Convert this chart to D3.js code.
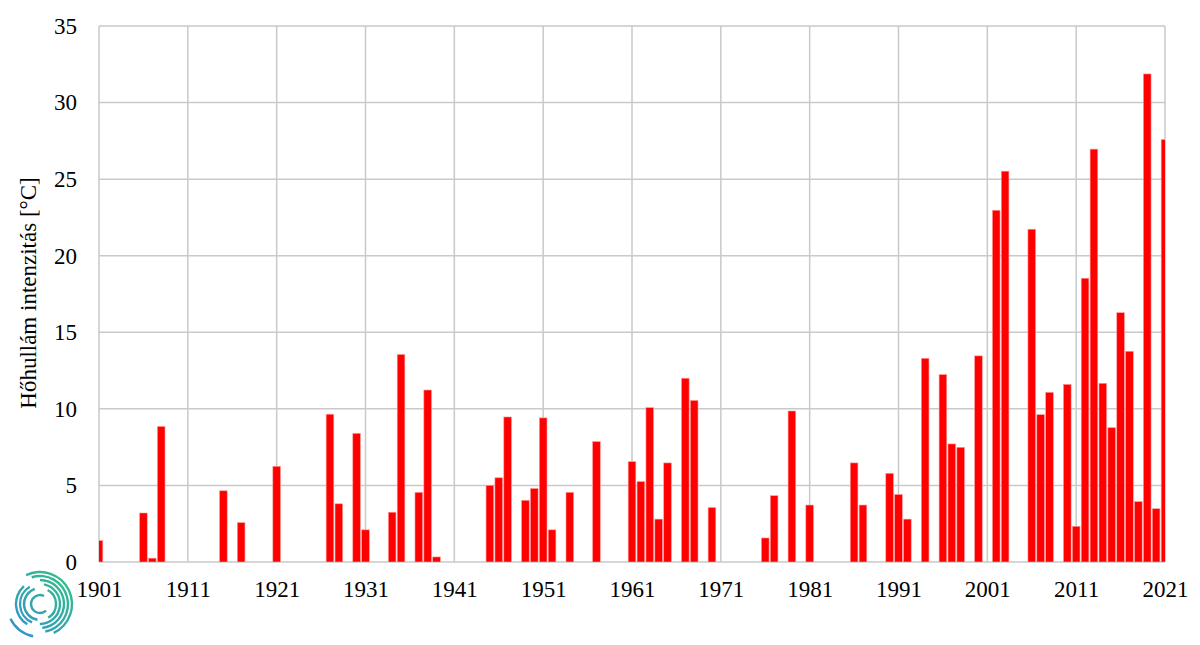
<!DOCTYPE html>
<html>
<head>
<meta charset="utf-8">
<script src="https://cdn.jsdelivr.net/npm/d3@7"></script>
<style>
  body { margin: 0; background: #fff; }
  svg { display: block; }
  text { font-family: "Liberation Serif", "Times New Roman", serif; fill: #000; }
</style>
</head>
<body>
<svg id="chart" width="1200" height="645"></svg>
<script>
const years = [1901, 1906, 1907, 1908, 1915, 1917, 1921, 1927, 1928, 1930, 1931, 1934, 1935, 1937, 1938, 1939,
  1945, 1946, 1947, 1949, 1950, 1951, 1952, 1954, 1957, 1961, 1962, 1963, 1964, 1965, 1967, 1968, 1970,
  1976, 1977, 1979, 1981, 1986, 1987, 1990, 1991, 1992, 1994, 1996, 1997, 1998, 2000, 2002, 2003,
  2006, 2007, 2008, 2010, 2011, 2012, 2013, 2014, 2015, 2016, 2017, 2018, 2019, 2020, 2021];
const values = [1.4, 3.2, 0.25, 8.85, 4.65, 2.57, 6.25, 9.65, 3.8, 8.4, 2.1, 3.25, 13.55, 4.55, 11.23, 0.33,
  5.0, 5.5, 9.47, 4.03, 4.8, 9.41, 2.1, 4.55, 7.86, 6.55, 5.25, 10.08, 2.8, 6.47, 12.0, 10.55, 3.55,
  1.57, 4.33, 9.86, 3.72, 6.47, 3.72, 5.79, 4.41, 2.8, 13.3, 12.24, 7.71, 7.49, 13.46, 22.97, 25.52,
  21.73, 9.62, 11.08, 11.6, 2.33, 18.53, 26.96, 11.67, 8.77, 16.28, 13.76, 3.94, 31.87, 3.48, 27.58];
const xTicks = [1901, 1911, 1921, 1931, 1941, 1951, 1961, 1971, 1981, 1991, 2001, 2011, 2021];
const yTicks = [0, 5, 10, 15, 20, 25, 30, 35];
const yTitle = "Hőhullám intenzitás [°C]";

(function () {
const svg = d3.select("#chart");
const pl = 99, pr = 1165, pt = 26, pb = 562;

const x = d3.scaleLinear().domain([1901, 2021]).range([pl, pr]);
const y = d3.scaleLinear().domain([0, 35]).range([pb, pt]);
const step = x(1902) - x(1901);
const bw = step * 0.86;

// gridlines
const grid = svg.append("g");
grid.selectAll("line.h").data(yTicks).join("line")
  .attr("x1", pl).attr("x2", pr)
  .attr("y1", d => y(d)).attr("y2", d => y(d))
  .attr("stroke", "#c9c9c9").attr("stroke-width", 1.5);
grid.selectAll("line.v").data(xTicks).join("line")
  .attr("x1", d => x(d)).attr("x2", d => x(d))
  .attr("y1", pt).attr("y2", pb)
  .attr("stroke", "#c9c9c9").attr("stroke-width", 1.5);

// clip
const defs = svg.append("defs");
defs.append("clipPath").attr("id", "plotclip").append("rect")
  .attr("x", pl).attr("y", pt - 5).attr("width", pr - pl).attr("height", pb - pt + 5);

// bars
svg.append("g").attr("clip-path", "url(#plotclip)")
  .selectAll("rect").data(years.map((yr, i) => ({yr, v: values[i]}))).join("rect")
  .attr("x", d => x(d.yr) - bw / 2)
  .attr("width", bw)
  .attr("y", d => y(d.v))
  .attr("height", d => y(0) - y(d.v))
  .attr("fill", "#ff0000")
  .attr("stroke", "#ff9a9a").attr("stroke-width", 0.6);

// y axis labels
const yAxis = svg.append("g").attr("transform", `translate(${pl},0)`)
  .call(d3.axisLeft(y).tickValues(yTicks).tickSize(0).tickPadding(22));
yAxis.select(".domain").remove();
yAxis.selectAll("text").style("font-size", "23px").attr("font-family", "Liberation Serif").attr("fill", "#000");

// x axis labels
const xAxis = svg.append("g").attr("transform", `translate(0,${pb})`)
  .call(d3.axisBottom(x).tickValues(xTicks).tickFormat(d3.format("d")).tickSize(0).tickPadding(19));
xAxis.select(".domain").remove();
xAxis.selectAll("text").style("font-size", "23px").attr("font-family", "Liberation Serif").attr("fill", "#000");

// y title
svg.append("text")
  .attr("transform", "translate(36,293) rotate(-90)")
  .attr("text-anchor", "middle")
  .style("font-size", "23px")
  .text(yTitle);

// logo
const cx = 40, cy = 604;
const grad = defs.append("linearGradient").attr("id", "logograd")
  .attr("gradientUnits", "userSpaceOnUse").attr("x1", 28).attr("y1", -30).attr("x2", -28).attr("y2", 32);
grad.append("stop").attr("offset", "0%").attr("stop-color", "#35c184");
grad.append("stop").attr("offset", "100%").attr("stop-color", "#2f8fd2");
const arcs = [
  {r: 32, a0: -0.45, a1: 2.7},
  {r: 33, a0: 3.35, a1: 4.25},
  {r: 28, a0: -0.3, a1: 2.95},
  {r: 24, a0: 0.0, a1: 3.05},
  {r: 24, a0: 3.7, a1: 5.55},
  {r: 20, a0: 0.2, a1: 3.15},
  {r: 20, a0: 3.55, a1: 5.75},
  {r: 16, a0: 0.5, a1: 2.6},
  {r: 16, a0: 3.3, a1: 5.95},
  {r: 9, a0: 2.4, a1: 6.75}
];
const arcGen = d3.arc();
svg.append("g").attr("transform", `translate(${cx},${cy})`)
  .selectAll("path").data(arcs).join("path")
  .attr("d", d => arcGen({innerRadius: d.r - 1.2, outerRadius: d.r + 1.2, startAngle: d.a0, endAngle: d.a1}))
  .attr("fill", "url(#logograd)");
})();
</script>
</body>
</html>
